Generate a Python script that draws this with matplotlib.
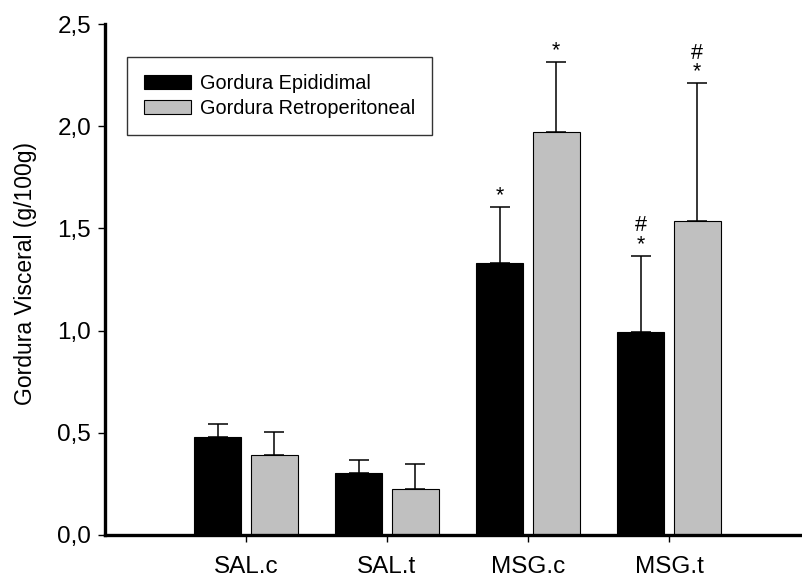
import numpy as np
import matplotlib
matplotlib.use("Agg")
import matplotlib.pyplot as plt

plt.rcParams["font.family"] = ["Liberation Sans", "DejaVu Sans"]

# data
groups = ["SAL.c", "SAL.t", "MSG.c", "MSG.t"]
epididimal = [0.48, 0.304, 1.33, 0.995]
epididimal_err = [0.062, 0.062, 0.273, 0.372]
retroperitoneal = [0.392, 0.223, 1.973, 1.535]
retroperitoneal_err = [0.112, 0.124, 0.343, 0.677]
# significance: * vs SAL, # vs MSG.c
epi_marks = ["", "", "*", "#\n*"]
retro_marks = ["", "", "*", "#\n*"]

fig = plt.figure(figsize=(8.03, 5.78), dpi=100)
ax = fig.add_axes([105/803, 43/578, 705/803, 511/578])

x = np.arange(1, len(groups) + 1)
w = 0.333
off = 0.2
errkw = dict(ecolor="black", elinewidth=1.1, capsize=7.5, capthick=1.1)
ax.bar(x - off, epididimal, w, color="black", edgecolor="black", linewidth=0.8,
       yerr=[np.zeros(4), epididimal_err], error_kw=errkw, label="Gordura Epididimal")
ax.bar(x + off, retroperitoneal, w, color="#c0c0c0", edgecolor="black", linewidth=0.8,
       yerr=[np.zeros(4), retroperitoneal_err], error_kw=errkw, label="Gordura Retroperitoneal")

# significance marks above the error bars
for xs, vals, errs, marks in [(x - off, epididimal, epididimal_err, epi_marks),
                              (x + off, retroperitoneal, retroperitoneal_err, retro_marks)]:
    for xi, v, e, m in zip(xs, vals, errs, marks):
        if m:
            ax.annotate(m, (xi, v + e), xytext=(0, 0.5), textcoords="offset points",
                        ha="center", va="bottom", fontsize=15.5, linespacing=0.85)

ax.set_xlim(0, 5)
ax.set_ylim(0, 2.5)
ax.set_xticks(x)
ax.set_xticklabels(groups)
ax.set_yticks(np.arange(0, 2.51, 0.5))
ax.set_yticklabels([f"{v:.1f}".replace(".", ",") for v in np.arange(0, 2.51, 0.5)])
ax.tick_params(axis="both", direction="out", length=5, width=1, labelsize=17.5, pad=5)
ax.tick_params(axis="x", pad=10)
for s in ["top", "right"]:
    ax.spines[s].set_visible(False)
for s in ["left", "bottom"]:
    ax.spines[s].set_linewidth(2.4)
ax.set_ylabel("Gordura Visceral (g/100g)", fontsize=16.5)
ax.yaxis.set_label_coords(-0.097, 0.511)

leg = ax.legend(loc="upper left", bbox_to_anchor=(22/705, 478/511), fontsize=14.3,
                frameon=True, fancybox=False, edgecolor="black", borderpad=0.85,
                borderaxespad=0, handlelength=2.36, handleheight=0.75,
                handletextpad=0.45, labelspacing=0.3)
leg.get_frame().set_linewidth(1)

fig.savefig("out.png", dpi=100)
